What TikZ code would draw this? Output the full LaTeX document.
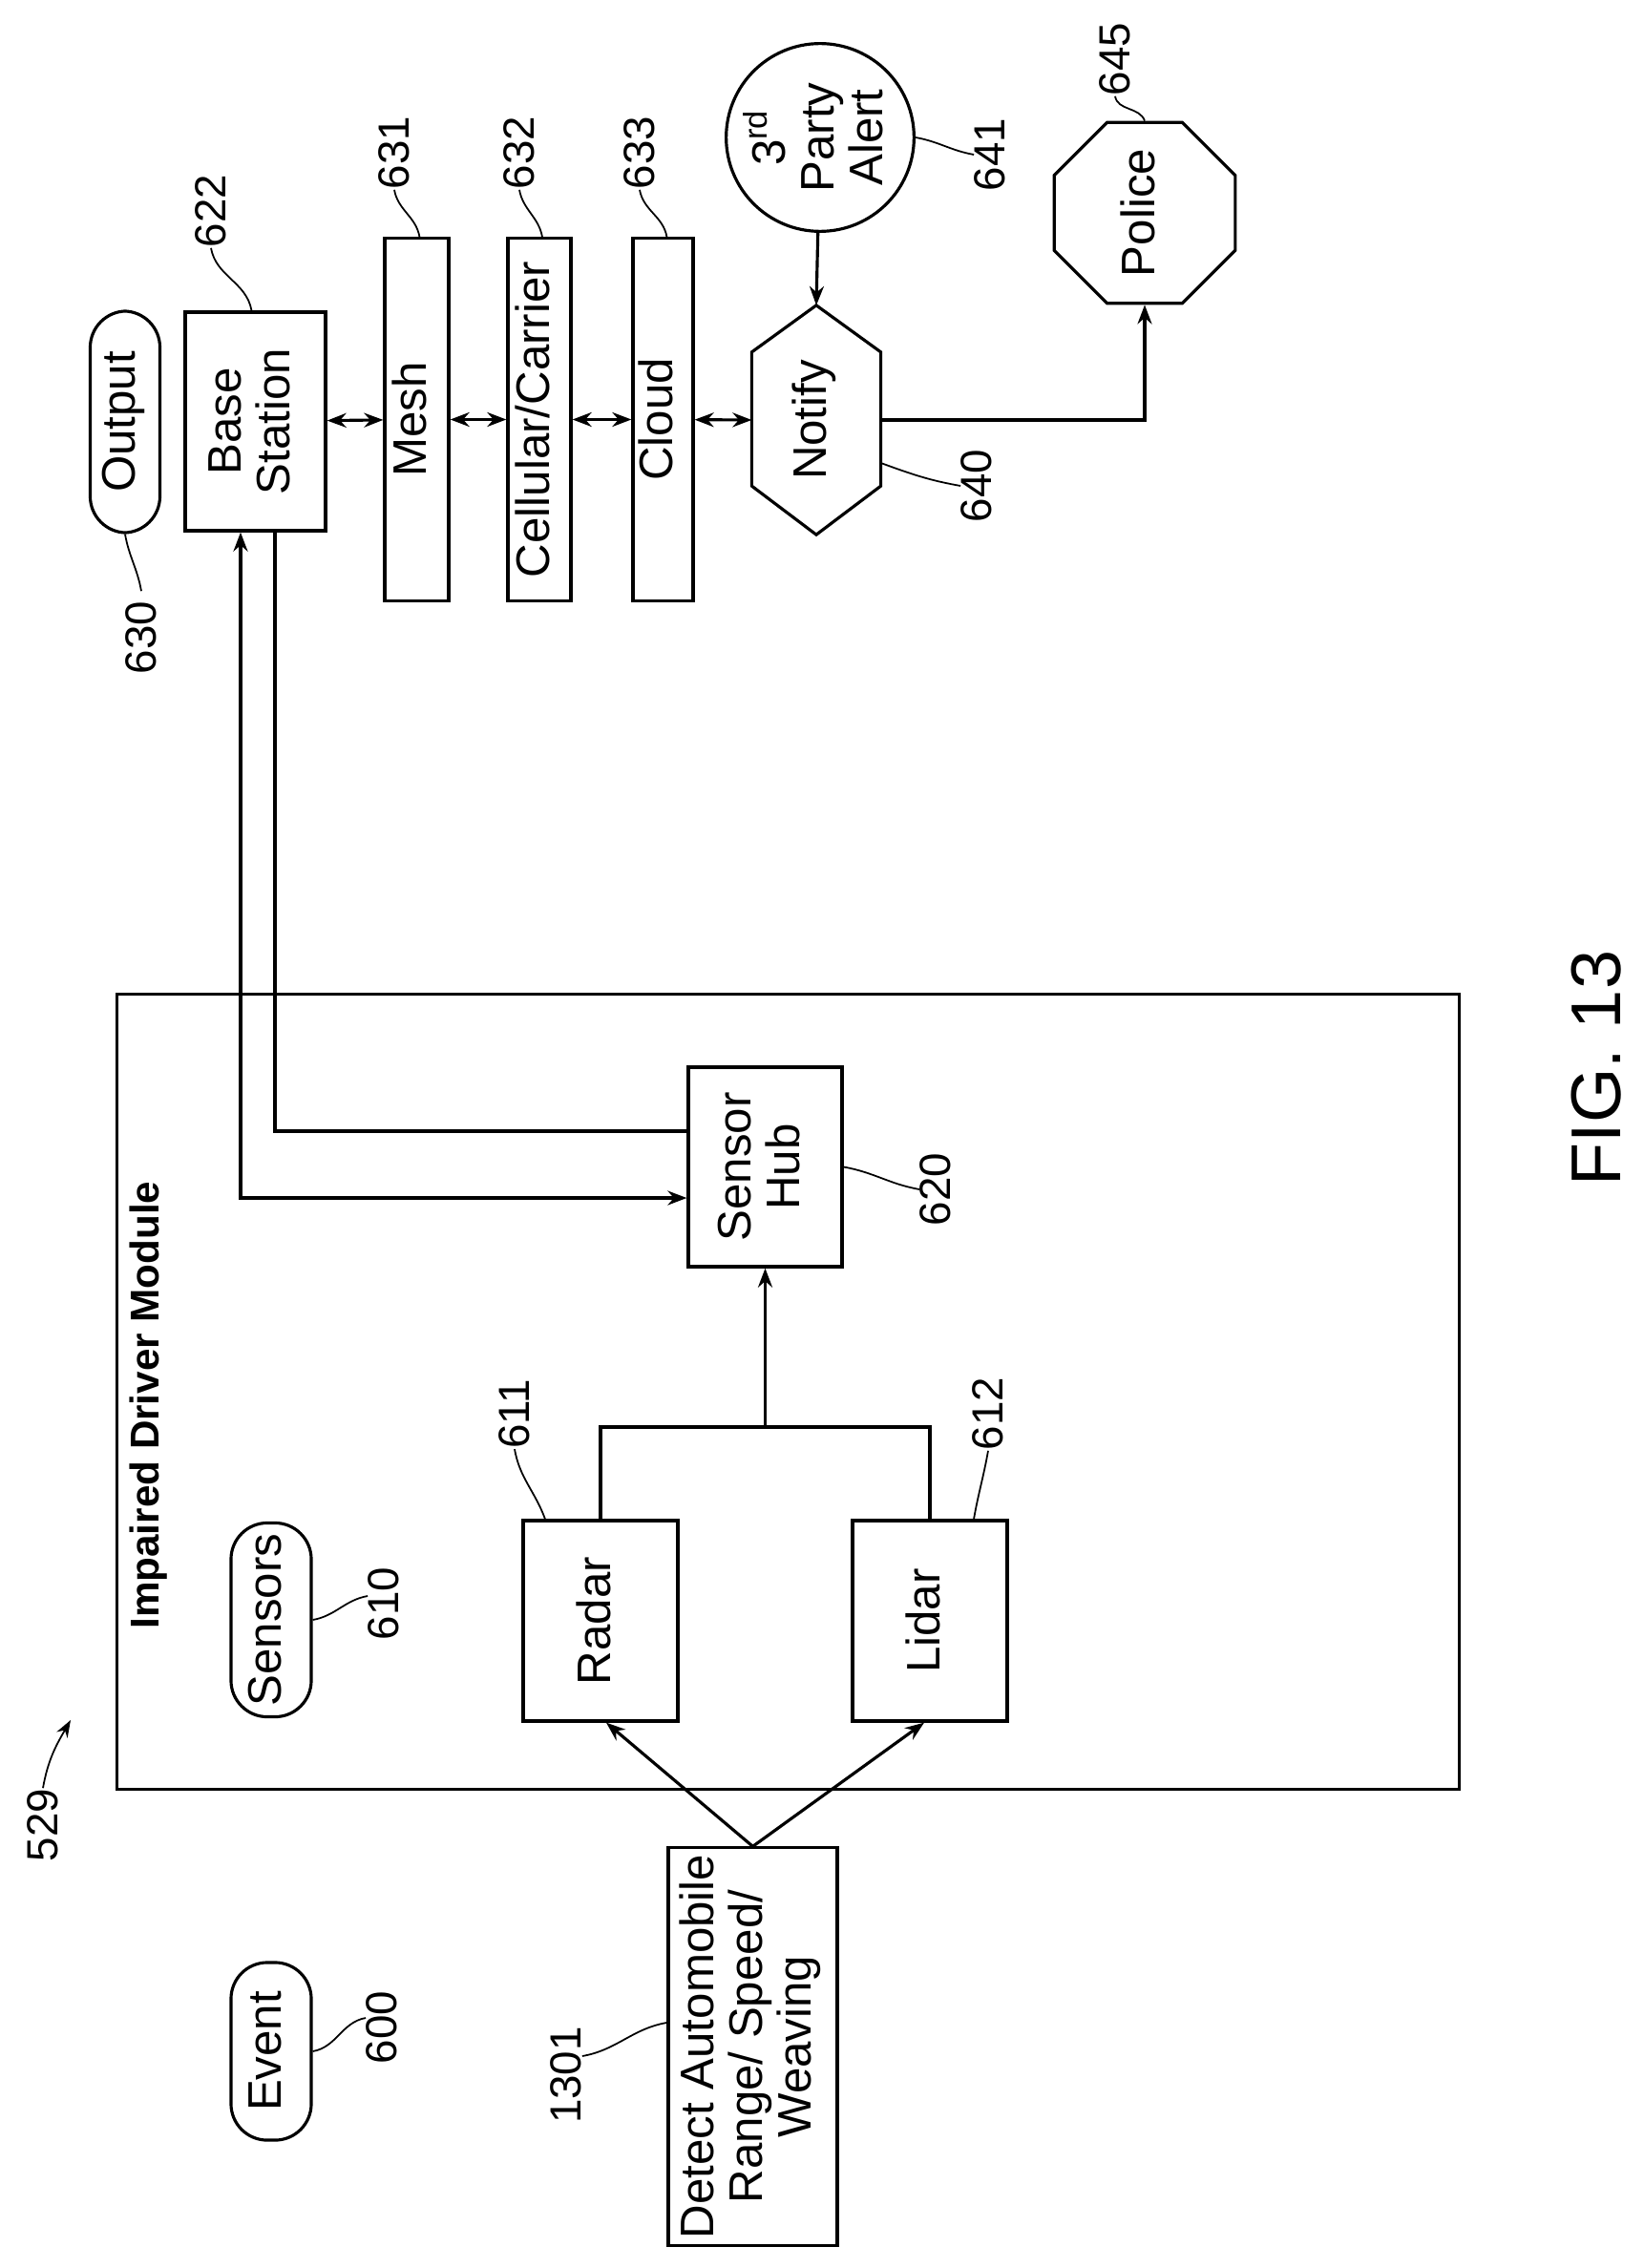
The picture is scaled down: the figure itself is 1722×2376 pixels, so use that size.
\documentclass[tikz,border=0pt]{standalone}
\usepackage{fontspec}
\setmainfont{Liberation Sans}
\usepackage{graphicx}
\usetikzlibrary{arrows.meta,shapes.geometric}

\newcommand{\vtext}[1]{\rotatebox{90}{\begin{tabular}{@{}c@{}}#1\end{tabular}}}

\tikzset{
	box/.style={draw=black, line width=0.9pt, inner sep=0pt, font=\fontsize{14}{14.5}\selectfont},
	pill/.style={box, rounded corners=0.38cm},
	lbl/.style={inner sep=0pt, font=\fontsize{13}{14}\selectfont},
	lead/.style={line width=0.5pt},
	conn/.style={line width=0.9pt},
	arr/.style={conn, -{Stealth[length=0.2cm,width=0.15cm]}},
	dbl/.style={conn, {Stealth[length=0.2cm,width=0.15cm]}-{Stealth[length=0.2cm,width=0.15cm]}}
}

\begin{document}
\begin{tikzpicture}[x=0.01cm, y=-0.01cm]
	\useasboundingbox (0,0) rectangle (1722,2376);

	% module frame
	\node[box, minimum width=14.05cm, minimum height=8.32cm] (module) at (825.5,1458) {};
	\node[font=\fontsize{12}{14}\selectfont\bfseries] (title) at (156,1472) {\rotatebox{90}{Impaired Driver Module}};

	\node[pill, minimum width=0.73cm, minimum height=2.32cm] (output) at (131,442) {\vtext{Output}};
	\node[box, minimum width=1.47cm, minimum height=2.29cm] (base) at (267.5,441.5) {\vtext{Base\\Station}};
	\node[box, minimum width=0.67cm, minimum height=3.79cm] (mesh) at (436.5,439.5) {\vtext{Mesh}};
	\node[box, minimum width=0.66cm, minimum height=3.79cm] (cell) at (565,439.5) {\vtext{Cellular/Carrier}};
	\node[box, minimum width=0.63cm, minimum height=3.79cm] (cloud) at (694.5,439.5) {\vtext{Cloud}};
	\node[box, draw=none, minimum width=1.32cm, minimum height=2.37cm] (notify) at (855,440) {\vtext{Notify}};
	\draw[conn] (notify.north) -- ([yshift=-0.49cm]notify.north east) -- ([yshift=0.51cm]notify.south east)
		-- (notify.south) -- ([yshift=0.51cm]notify.south west) -- ([yshift=-0.49cm]notify.north west) -- cycle;
	\node[box, circle, minimum size=1.84cm] (alert) at (859,144) {\vtext{3\textsuperscript{rd}\\Party\\Alert}};
	\node[box, regular polygon, regular polygon sides=8, minimum size=1.65cm] (police) at (1199,223) {\vtext{Police}};

	\node[box, minimum width=1.61cm, minimum height=2.09cm] (hub) at (801.5,1222.5) {\vtext{Sensor\\Hub}};
	\node[box, minimum width=1.62cm, minimum height=2.1cm] (radar) at (629,1698) {\vtext{Radar}};
	\node[box, minimum width=1.62cm, minimum height=2.1cm] (lidar) at (974,1698) {\vtext{Lidar}};
	\node[pill, minimum width=0.84cm, minimum height=2.03cm] (sensors) at (284,1697) {\vtext{Sensors}};
	\node[pill, minimum width=0.84cm, minimum height=1.86cm] (event) at (284,2149) {\vtext{Event}};
	\node[box, minimum width=1.77cm, minimum height=4.16cm] (detect) at (788.5,2144) {\vtext{Detect Automobile\\Range/ Speed/\\Weaving}};

	% connectors
	\draw[dbl] (base) -- (mesh);
	\draw[dbl] (mesh) -- (cell);
	\draw[dbl] (cell) -- (cloud);
	\draw[dbl] (cloud) -- (notify.west);
	\draw[arr] (alert) -- (notify.north);
	\draw[arr] (notify.east) -| (police.south);
	\draw[dbl] ([xshift=-0.155cm]base.south) |- ([yshift=-0.325cm]hub.west);
	\draw[conn] ([xshift=0.205cm]base.south) |- ([yshift=0.375cm]hub.west);
	\coordinate (join) at (801.5,1495);
	\draw[conn] (radar.north) |- (join) -| (lidar.north);
	\draw[arr] (join) -- (hub.south);
	\draw[arr] (detect.north) -- ([xshift=0.06cm]radar.south);
	\draw[arr] (detect.north) -- ([xshift=-0.06cm]lidar.south);

	% reference numerals
	\node[lbl] (l630) at (148,668) {\rotatebox{90}{630}};
	\node[lbl] (l622) at (221,221) {\rotatebox{90}{622}};
	\node[lbl] (l631) at (413,160) {\rotatebox{90}{631}};
	\node[lbl] (l632) at (544,160) {\rotatebox{90}{632}};
	\node[lbl] (l633) at (670,160) {\rotatebox{90}{633}};
	\node[lbl] (l641) at (1037,162) {\rotatebox{90}{641}};
	\node[lbl] (l640) at (1023,509) {\rotatebox{90}{640}};
	\node[lbl] (l645) at (1168,62) {\rotatebox{90}{645}};
	\node[lbl] (l620) at (980,1246) {\rotatebox{90}{620}};
	\node[lbl] (l611) at (539,1481) {\rotatebox{90}{611}};
	\node[lbl] (l612) at (1035,1481) {\rotatebox{90}{612}};
	\node[lbl] (l610) at (402,1680) {\rotatebox{90}{610}};
	\node[lbl] (l600) at (400,2124) {\rotatebox{90}{600}};
	\node[lbl] (l1301) at (593,2174) {\rotatebox{90}{1301}};
	\node[lbl] (l529) at (45,1912) {\rotatebox{90}{529}};
	\coordinate (c529) at (74,1802);

	\draw[lead] (output.south) to[out=-80,in=100] ([yshift=0.1cm]l630.north);
	\draw[lead] (l622.south) to[out=-80,in=100] ([xshift=-0.04cm]base.north);
	\draw[lead] (l631.south) to[out=-80,in=100] ([xshift=0.03cm]mesh.north);
	\draw[lead] (l632.south) to[out=-80,in=100] ([xshift=0.03cm]cell.north);
	\draw[lead] (l633.south) to[out=-80,in=100] ([xshift=0.04cm]cloud.north);
	\draw[lead] (alert.east) to[out=-10,in=170] (l641.west);
	\draw[lead] ([yshift=-0.45cm]notify.east) to[out=-20,in=170] (l640.west);
	\draw[lead] (l645.south) to[out=-80,in=110] (police.north);
	\draw[lead] (hub.east) to[out=-10,in=170] (l620.west);
	\draw[lead] (l611.south) to[out=-80,in=110] ([xshift=-0.58cm]radar.north);
	\draw[lead] (l612.south) to[out=-100,in=80] ([xshift=0.46cm]lidar.north);
	\draw[lead] (sensors.east) to[out=10,in=190] ([yshift=0.08cm]l610.west);
	\draw[lead] (event.east) to[out=10,in=190] ([yshift=0.1cm]l600.west);
	\draw[lead] ([yshift=0.2cm]l1301.east) to[out=10,in=190] ([yshift=0.25cm]detect.west);
	\draw[lead, -{Stealth[length=0.18cm,width=0.13cm]}] (l529.north) to[out=80,in=-120] (c529);

	\node[font=\fontsize{21}{24}\selectfont] (fig) at (1672,1119) {\rotatebox{90}{FIG. 13}};
\end{tikzpicture}
\end{document}
